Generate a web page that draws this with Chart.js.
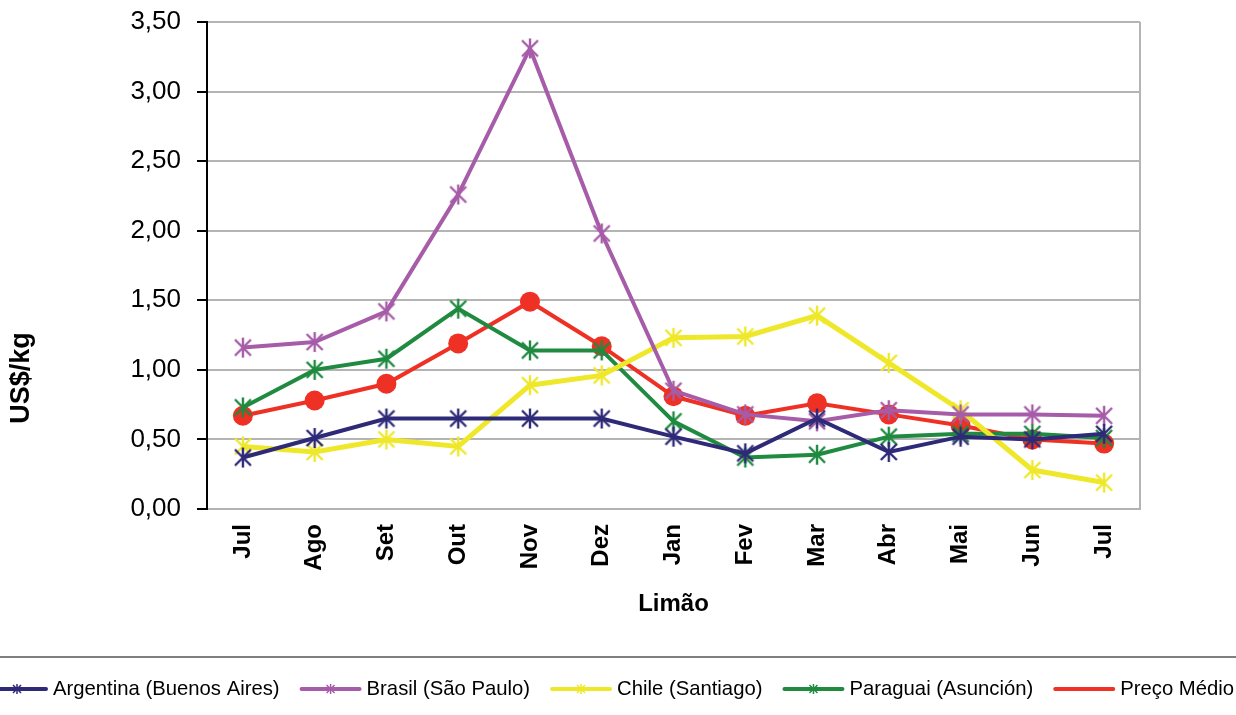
<!DOCTYPE html>
<html>
<head>
<meta charset="utf-8">
<script src="https://cdn.jsdelivr.net/npm/chart.js@4.4.0/dist/chart.umd.min.js"></script>
<style>
  html, body { margin: 0; padding: 0; background: #fff; }
  #wrap { width: 1236px; height: 715px; }
</style>
</head>
<body>
<div id="wrap"><canvas id="chart"></canvas></div>
<script>
// meses (jul a jul)
const months = ['Jul', 'Ago', 'Set', 'Out', 'Nov', 'Dez', 'Jan', 'Fev', 'Mar', 'Abr', 'Mai', 'Jun', 'Jul'];

const argentina = [0.37, 0.51, 0.65, 0.65, 0.65, 0.65, 0.52, 0.40, 0.65, 0.41, 0.52, 0.50, 0.54];
const brasil    = [1.16, 1.20, 1.42, 2.26, 3.31, 1.98, 0.85, 0.68, 0.63, 0.71, 0.68, 0.68, 0.67];
const chile     = [0.45, 0.41, 0.50, 0.45, 0.89, 0.96, 1.23, 1.24, 1.39, 1.05, 0.71, 0.28, 0.19];
const paraguai  = [0.73, 1.00, 1.08, 1.44, 1.14, 1.14, 0.63, 0.37, 0.39, 0.52, 0.54, 0.54, 0.51];
const precoMedio = [0.67, 0.78, 0.90, 1.19, 1.49, 1.17, 0.81, 0.67, 0.76, 0.68, 0.60, 0.50, 0.47];

const yTicks = [0, 0.5, 1, 1.5, 2, 2.5, 3, 3.5];

const NAVY = '#2f2a78';
const PURPLE = '#a65ca8';
const YELLOW = '#efe82a';
const GREEN = '#1f8a40';
const RED = '#ee3124';
const FONT = 'Liberation Sans, Arial, sans-serif';

// asterisco estilo Excel (X + traço vertical)
function asterisk(color) {
  const c = document.createElement('canvas');
  c.width = 24; c.height = 24;
  const g = c.getContext('2d');
  g.strokeStyle = color;
  g.lineWidth = 2.4;
  g.beginPath();
  g.moveTo(4, 4); g.lineTo(20, 20);
  g.moveTo(20, 4); g.lineTo(4, 20);
  g.moveTo(12, 2); g.lineTo(12, 22);
  g.stroke();
  return c;
}

function serie(label, data, color, width) {
  return {
    label: label,
    data: data,
    borderColor: color,
    backgroundColor: color,
    borderWidth: width,
    pointStyle: asterisk(color),
    pointRadius: 10,
    tension: 0,
    mark: true
  };
}

const datasets = [
  serie('Argentina (Buenos Aires)', argentina, NAVY, 4),
  serie('Brasil (São Paulo)', brasil, PURPLE, 4),
  serie('Chile (Santiago)', chile, YELLOW, 5),
  serie('Paraguai (Asunción)', paraguai, GREEN, 4),
  {
    label: 'Preço Médio',
    data: precoMedio,
    borderColor: RED,
    backgroundColor: RED,
    borderWidth: 4,
    pointStyle: 'circle',
    pointRadius: 10,
    pointBorderWidth: 0,
    tension: 0,
    mark: false
  }
];

// moldura cinza, título do eixo y, linha separadora e legenda numa linha só
const extras = {
  id: 'extras',
  beforeDatasetsDraw(chart) {
    const { ctx, chartArea } = chart;
    ctx.save();
    ctx.strokeStyle = '#b4b4b4';
    ctx.lineWidth = 2;
    ctx.beginPath();
    ctx.moveTo(chartArea.right, chartArea.top);
    ctx.lineTo(chartArea.right, chartArea.bottom);
    ctx.stroke();
    ctx.restore();
  },
  afterDraw(chart) {
    const { ctx } = chart;
    ctx.save();
    // título do eixo y (posição como no original)
    ctx.translate(22, 378);
    ctx.rotate(-Math.PI / 2);
    ctx.font = 'bold 27px ' + FONT;
    ctx.fillStyle = '#000';
    ctx.textAlign = 'center';
    ctx.textBaseline = 'middle';
    ctx.fillText('US$/kg', 0, 0);
    ctx.restore();

    ctx.save();
    ctx.strokeStyle = '#555';
    ctx.lineWidth = 1.5;
    ctx.beginPath();
    ctx.moveTo(0, 657);
    ctx.lineTo(chart.width, 657);
    ctx.stroke();

    const iconW = 62, gapIcon = 5, gapItem = 20, y = 689;
    ctx.font = '20.3px ' + FONT;
    let x = -14;
    chart.data.datasets.forEach(ds => {
      const w = ctx.measureText(ds.label).width;
      ctx.strokeStyle = ds.borderColor;
      ctx.lineWidth = 4;
      ctx.lineCap = 'round';
      ctx.beginPath();
      ctx.moveTo(x + 2, y); ctx.lineTo(x + iconW - 2, y);
      ctx.stroke();
      if (ds.mark) {
        const cx = x + iconW / 2;
        ctx.lineWidth = 1.5;
        ctx.lineCap = 'butt';
        ctx.beginPath();
        ctx.moveTo(cx - 4, y - 4); ctx.lineTo(cx + 4, y + 4);
        ctx.moveTo(cx + 4, y - 4); ctx.lineTo(cx - 4, y + 4);
        ctx.moveTo(cx, y - 5); ctx.lineTo(cx, y + 5);
        ctx.stroke();
      }
      ctx.fillStyle = '#000';
      ctx.textAlign = 'left';
      ctx.textBaseline = 'middle';
      ctx.fillText(ds.label, x + iconW + gapIcon, y);
      x += iconW + gapIcon + w + gapItem;
    });
    ctx.restore();
  }
};

new Chart(document.getElementById('chart'), {
  type: 'line',
  data: { labels: months, datasets: datasets },
  options: {
    responsive: true,
    maintainAspectRatio: false,
    animation: false,
    layout: { padding: { left: 8, right: 96, top: 22, bottom: 60 } },
    plugins: {
      tooltip: { enabled: false },
      legend: { display: false }
    },
    scales: {
      x: {
        offset: true,
        grid: { display: false, drawTicks: false },
        border: { color: '#b4b4b4', width: 2 },
        ticks: {
          color: '#000',
          minRotation: 90,
          maxRotation: 90,
          padding: 15,
          font: { family: FONT, size: 24, weight: 'bold' }
        },
        title: {
          display: true,
          text: 'Limão',
          color: '#000',
          padding: { top: 0, bottom: 36 },
          font: { family: FONT, size: 24, weight: 'bold' }
        },
        afterFit(scale) { scale.height = 146; }
      },
      y: {
        min: 0,
        max: 3.5,
        afterBuildTicks(scale) { scale.ticks = yTicks.map(v => ({ value: v })); },
        grid: { color: '#b4b4b4', lineWidth: 2, tickColor: '#000', tickLength: 10 },
        border: { color: '#000', width: 2 },
        ticks: {
          color: '#000',
          padding: 16,
          font: { family: FONT, size: 26 },
          callback: v => v.toFixed(2).replace('.', ',')
        },
        title: { display: false },
        afterFit(scale) {
          scale.width = 199;
          scale.paddingTop = 0;
          scale.paddingBottom = 0;
        }
      }
    }
  },
  plugins: [extras]
});
</script>
</body>
</html>
